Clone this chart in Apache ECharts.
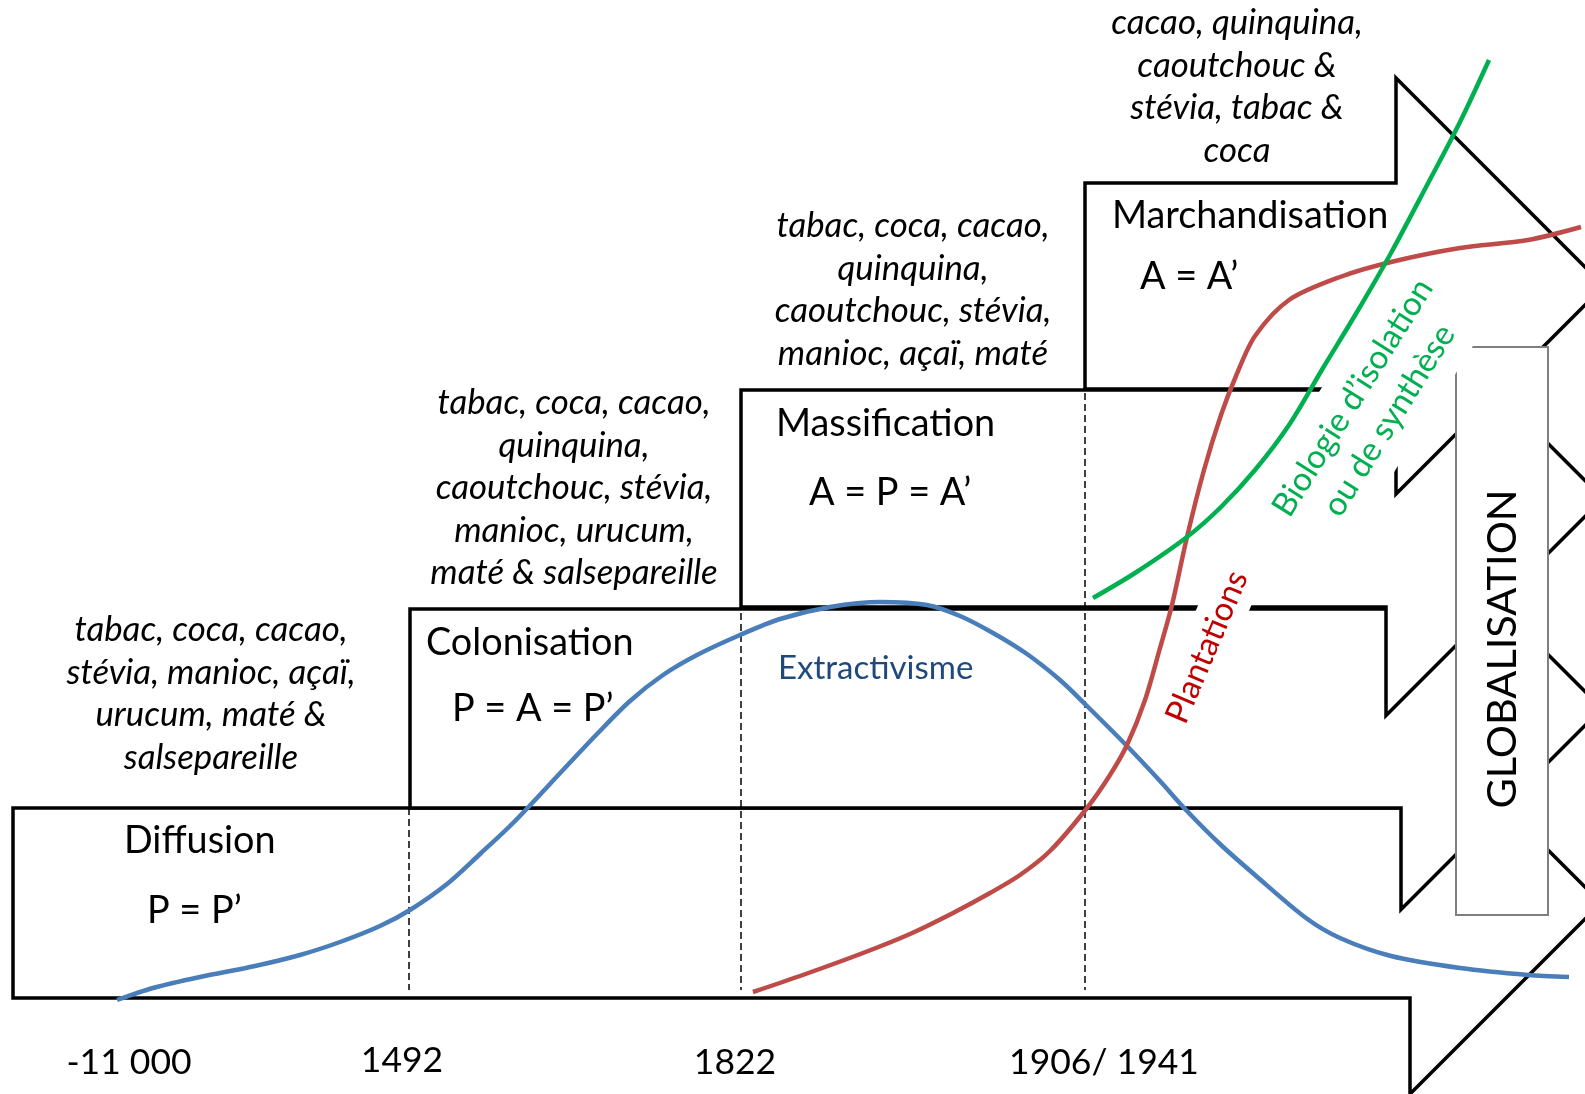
<!DOCTYPE html>
<html><head><meta charset="utf-8">
<script src="https://cdn.jsdelivr.net/npm/echarts@6/dist/echarts.min.js"></script>
<style>html,body{margin:0;padding:0;background:#fff}#c{width:1585px;height:1094px}</style>
</head><body><div id="c"></div>
<script>
// ---------- content ----------
const stageNames = ['Diffusion', 'Colonisation', 'Massification', 'Marchandisation'];
const stageFormulas = ['P = P\u2019', 'P = A = P\u2019', 'A = P = A\u2019', 'A = A\u2019'];
const stagePlants = [
  'tabac, coca, cacao,\nstévia, manioc, açaï,\nurucum, maté &\nsalsepareille',
  'tabac, coca, cacao,\nquinquina,\ncaoutchouc, stévia,\nmanioc, urucum,\nmaté & salsepareille',
  'tabac, coca, cacao,\nquinquina,\ncaoutchouc, stévia,\nmanioc, açaï, maté',
  'cacao, quinquina,\ncaoutchouc &\nstévia, tabac &\ncoca'
];
const dateLabels = ['-11 000', '1492', '1822', '1906/ 1941'];
const curveNames = ['Extractivisme', 'Plantations', 'Biologie d\u2019isolation\nou de synthèse'];
const globalLabel = 'GLOBALISATION';

// curve values (diagram units: x to the right, y downward)
const extractivisme = [[117,1000],[153,988],[200,977],[255,966],[300,955],[340,942],[380,926],[410,910],[447,884],[480,854],[513,823],[563,770],[597,734],[630,701],[663,675],[697,655],[740,635],[780,619],[830,607],[880,602],[927,605],[960,616],[993,633],[1027,654],[1060,680],[1087,706],[1127,746],[1160,781],[1187,811],[1221,845],[1255,875],[1306,918],[1340,938],[1391,956],[1460,968],[1528,975],[1569,977]];
const plantations = [[753,992],[800,976],[863,953],[910,934],[953,913],[990,893],[1020,875],[1050,851],[1087,808],[1110,775],[1127,745],[1145,700],[1160,648],[1172,605],[1187,537],[1204,470],[1221,415],[1236,376],[1255,336],[1289,300],[1340,277],[1391,262],[1460,248],[1528,240],[1581,227]];
const biologie = [[1093,598],[1135,573],[1187,537],[1221,507],[1255,470],[1289,425],[1323,368],[1357,312],[1391,253],[1425,189],[1460,122],[1489,60]];

// ---------- layout (diagram units) ----------
const W = 1585, H = 1094;
const arrowGeom = [
  {left: 13,   top: 808, bottom: 998, neck: 1410, tip: 1601},
  {left: 410,  top: 609, bottom: 808, neck: 1401, tip: 1602},
  {left: 741,  top: 390, bottom: 607, neck: 1386, tip: 1603},
  {left: 1085, top: 183, bottom: 389, neck: 1396, tip: 1604}
];
const dividerX = [409, 741, 1085];
const dividerTop = [808, 613, 393];
const dividerBottom = 990;
const globalBox = {x0: 1456, x1: 1548, y0: 347, y1: 915};

const nameAt = [[124,841],[426,643],[776,424],[1112,216]];
const formulaAt = [[147,911],[452,709],[809,493],[1140,277]];
const plantsAt = [[211,694],[574,488],[913,290],[1237,87]];
const dateAt = [[129,1063],[402,1061],[735,1063],[1104,1063]];

const F = 'Lato, "Open Sans", sans-serif';
const texts = [];
stageNames.forEach((t,i)=>texts.push({t, p:nameAt[i], font:'37.8px '+F, align:'left'}));
stageFormulas.forEach((t,i)=>texts.push({t, p:formulaAt[i], font:'37.8px '+F, align:'left'}));
stagePlants.forEach((t,i)=>texts.push({t, p:plantsAt[i], font:'italic 34.8px '+F, align:'center', lh:42.5}));
dateLabels.forEach((t,i)=>texts.push({t, p:dateAt[i], font:'35.5px '+F, align:'center'}));
texts.push({t:curveNames[0], p:[778,668], font:'33px '+F, align:'left', color:'#1f497d'});
texts.push({t:curveNames[1], p:[1207,647], font:'33px '+F, align:'center', color:'#c00000', rot:67, bg:'#fff', pad:[8,10]});
texts.push({t:curveNames[2], p:[1371,409], font:'33px '+F, align:'center', color:'#00b050', rot:58, bg:'#fff', pad:[10,10], lh:43});
texts.push({t:globalLabel, p:[1503,649], font:'41.5px '+F, align:'center', rot:90});

function arrowPoly(g){
  const c = (g.top + g.bottom) / 2, h = g.tip - g.neck;
  return [[g.left,g.top],[g.neck,g.top],[g.neck,c-h],[g.tip,c],[g.neck,c+h],[g.neck,g.bottom],[g.left,g.bottom]];
}

const chart = echarts.init(document.getElementById('c'), null, {renderer:'canvas'});
const curveColors = ['#4a7ebb', '#be4b48', '#00b050'];
const curves = [extractivisme, plantations, biologie];

chart.setOption({
  animation: false,
  backgroundColor: '#fff',
  grid: {left: 0, right: 0, top: 0, bottom: 0},
  xAxis: {type: 'value', min: 0, max: W, show: false},
  yAxis: {type: 'value', min: 0, max: H, inverse: true, show: false},
  series: [
    {
      type: 'custom', z: 1, clip: false, silent: true,
      data: arrowGeom.map((g,i)=>[g.left, g.top, i]),
      renderItem: (params, api) => {
        const pts = arrowPoly(arrowGeom[params.dataIndex]).map(p => api.coord(p));
        return {type: 'polygon', shape: {points: pts}, style: {fill: '#fff', stroke: '#000', lineWidth: 3.5, lineJoin: 'miter'}};
      }
    },
    {
      type: 'custom', z: 2, clip: false, silent: true,
      data: [[globalBox.x0, globalBox.y0]],
      renderItem: (params, api) => {
        const a = api.coord([globalBox.x0, globalBox.y0]), b = api.coord([globalBox.x1, globalBox.y1]);
        return {type: 'rect', shape: {x: a[0], y: a[1], width: b[0]-a[0], height: b[1]-a[1]}, style: {fill: '#fff', stroke: '#7f7f7f', lineWidth: 2}};
      }
    },
    {
      type: 'custom', z: 3, clip: false, silent: true,
      data: dividerX.map((x,i)=>[x, dividerTop[i]]),
      renderItem: (params, api) => {
        const i = params.dataIndex;
        const a = api.coord([dividerX[i], dividerTop[i]]), b = api.coord([dividerX[i], dividerBottom]);
        return {type: 'line', shape: {x1: a[0], y1: a[1], x2: b[0], y2: b[1]}, style: {stroke: '#000', lineWidth: 1.5, lineDash: [7, 4]}};
      }
    },
    {
      type: 'custom', z: 4, clip: false, silent: true,
      data: texts.map(o => o.p),
      renderItem: (params, api) => {
        const o = texts[params.dataIndex];
        const p = api.coord(o.p);
        const style = {text: o.t, font: o.font, fill: o.color || '#000', align: o.align, verticalAlign: 'middle'};
        if (o.lh) style.lineHeight = o.lh;
        if (o.bg) { style.backgroundColor = o.bg; style.padding = o.pad; }
        return {type: 'text', x: p[0], y: p[1], rotation: (o.rot || 0) * Math.PI / 180, style};
      }
    }
  ].concat(curves.map((d,i)=>({
    type: 'line', z: 5, data: d, smooth: 0.3, showSymbol: false, silent: true,
    lineStyle: {color: curveColors[i], width: 4.5}
  })))
});
</script></body></html>
